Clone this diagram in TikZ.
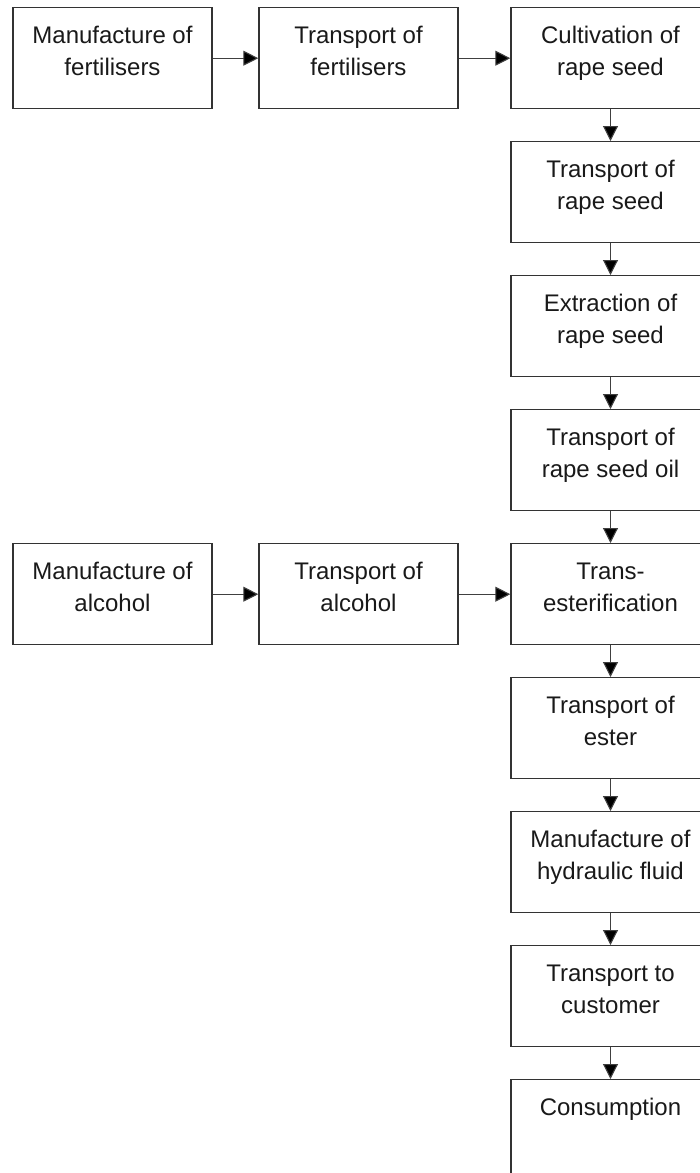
\documentclass[tikz,border=0pt]{standalone}
\usepackage{fontspec}
\setmainfont{Liberation Sans}
\usetikzlibrary{arrows.meta}
\newcommand{\boxtext}[1]{\parbox[c][101pt][t]{199pt}{\centering\rule{0pt}{36pt}#1}}

\begin{document}
\begin{tikzpicture}[x=1pt,y=-1pt]
\tikzstyle{every node}+=[inner sep=0pt]
\tikzstyle{stepbox}=[draw=black!80, line width=1.4pt, anchor=north, font=\fontsize{24}{32}\selectfont, text=black!90]
\tikzstyle{flow}=[draw=black!75, line width=1.1pt, -{Triangle[length=15pt,width=15pt,fill=black]}]
\clip (0,0) rectangle (700,1173);
\node [stepbox] (manfert) at (112.5,7) {\boxtext{Manufacture of\\fertilisers}};
\node [stepbox] (transfert) at (358.5,7) {\boxtext{Transport of\\fertilisers}};
\node [stepbox] (cultseed) at (610.5,7) {\boxtext{Cultivation of\\rape seed}};
\node [stepbox] (transseed) at (610.5,141) {\boxtext{Transport of\\rape seed}};
\node [stepbox] (extract) at (610.5,275) {\boxtext{Extraction of\\rape seed}};
\node [stepbox] (transoil) at (610.5,409) {\boxtext{Transport of\\rape seed oil}};
\node [stepbox] (manalc) at (112.5,543) {\boxtext{Manufacture of\\alcohol}};
\node [stepbox] (transalc) at (358.5,543) {\boxtext{Transport of\\alcohol}};
\node [stepbox] (esterif) at (610.5,543) {\boxtext{Trans-\\esterification}};
\node [stepbox] (transester) at (610.5,677) {\boxtext{Transport of\\ester}};
\node [stepbox] (manfluid) at (610.5,811) {\boxtext{Manufacture of\\hydraulic fluid}};
\node [stepbox] (transcust) at (610.5,945) {\boxtext{Transport to\\customer}};
\node [stepbox] (consume) at (610.5,1079) {\boxtext{Consumption}};
% fertiliser chain
\draw [flow] (manfert.east) -- (transfert.west);
\draw [flow] (transfert.east) -- (cultseed.west);
% alcohol chain
\draw [flow] (manalc.east) -- (transalc.west);
\draw [flow] (transalc.east) -- (esterif.west);
% main chain
\draw [flow] (cultseed.south) -- (transseed.north);
\draw [flow] (transseed.south) -- (extract.north);
\draw [flow] (extract.south) -- (transoil.north);
\draw [flow] (transoil.south) -- (esterif.north);
\draw [flow] (esterif.south) -- (transester.north);
\draw [flow] (transester.south) -- (manfluid.north);
\draw [flow] (manfluid.south) -- (transcust.north);
\draw [flow] (transcust.south) -- (consume.north);
\end{tikzpicture}
\end{document}
